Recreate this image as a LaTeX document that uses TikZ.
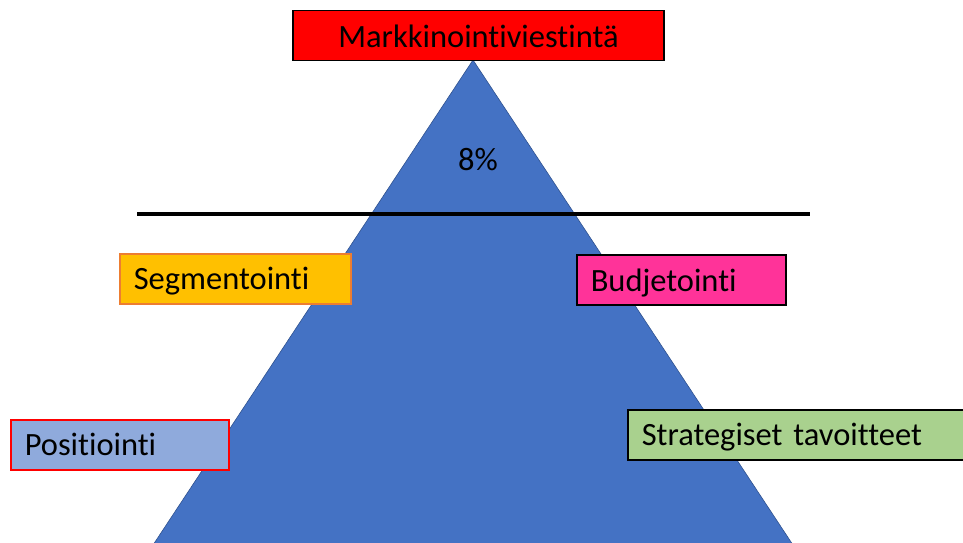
\documentclass[tikz,border=0pt]{standalone}
\usepackage{fontspec}
\setmainfont{Carlito}[Ligatures=NoCommon, WordSpace=0.8]
\usetikzlibrary{positioning}

\definecolor{pyrblue}{HTML}{4472C4}
\definecolor{pyredge}{HTML}{2F528F}
\definecolor{segfill}{HTML}{FFC000}
\definecolor{segedge}{HTML}{ED7D31}
\definecolor{budfill}{HTML}{FF3399}
\definecolor{posfill}{HTML}{8FAADC}
\definecolor{stratfill}{HTML}{A9D18E}

\begin{document}
\begin{tikzpicture}[
  x=1pt, y=-1pt,
  lbl/.style={draw, line width=1.5pt, anchor=north west, minimum height=50pt,
              text depth=0pt, inner xsep=14pt, font=\fontsize{32.5}{38}\selectfont}
]
  \useasboundingbox (0,0) rectangle (963,543);
  \clip (0,0) rectangle (963,543);

  % pyramid
  \draw[fill=pyrblue, draw=pyredge, line width=0.6pt] (473,60) -- (153,545) -- (793,545) -- cycle;
  \node (pct) at (478,160) {\fontsize{32.5}{38}\selectfont 8\%};

  % top of the pyramid
  \node[lbl, fill=red, anchor=north, minimum width=371pt, text width=343pt, align=center]
      (top) at (478.5,10) {Markkinointiviestintä};

  % dividing line
  \coordinate (cutL) at (137,214);
  \coordinate (cutR) at (810,214);
  \draw[line width=4pt] (cutL) -- (cutR);

  % side boxes
  \node[lbl, fill=segfill, draw=segedge, minimum width=231pt, text width=203pt, align=left]
      (seg) at (119,253) {Segmentointi};
  \node[lbl, fill=budfill, minimum width=209pt, text width=181pt, align=left]
      (bud) at (576,254) {Budjetointi};
  \node[lbl, fill=posfill, draw=red, minimum width=218pt, text width=190pt, align=left]
      (pos) at (10,419) {Positiointi};
  \node[lbl, fill=stratfill, minimum width=350pt, text width=322pt, align=left]
      (strat) at (627,409) {Strategiset tavoitteet};
\end{tikzpicture}
\end{document}
